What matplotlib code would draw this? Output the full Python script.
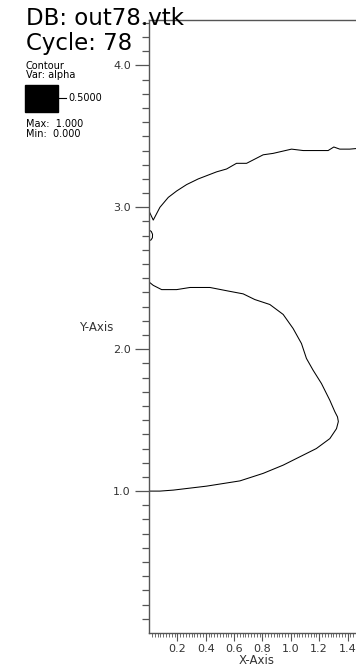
import matplotlib
matplotlib.use("Agg")
import matplotlib.pyplot as plt
import numpy as np

# contour alpha = 0.5, upper interface
upper_x = [0.0, 0.03, 0.077, 0.136, 0.195, 0.265, 0.347, 0.477, 0.547, 0.617,
           0.688, 0.805, 0.875, 1.005, 1.087, 1.263, 1.303, 1.345, 1.415, 1.53]
upper_y = [2.974, 2.91, 3.0, 3.07, 3.115, 3.16, 3.20, 3.25, 3.27, 3.31,
           3.31, 3.37, 3.38, 3.41, 3.40, 3.40, 3.425, 3.41, 3.41, 3.42]

# small detached bubble near the wall
blob_x = [0.0, 0.016, 0.025, 0.024, 0.014, 0.0]
blob_y = [2.84, 2.83, 2.81, 2.785, 2.77, 2.765]

# lower interface (closed back to the wall)
lower_x = [0.0, 0.03, 0.089, 0.195, 0.289, 0.43, 0.558, 0.664, 0.746, 0.852,
           0.946, 1.016, 1.075, 1.11, 1.157, 1.216, 1.275, 1.31, 1.329, 1.335,
           1.322, 1.275, 1.18, 1.04, 0.946, 0.805, 0.641, 0.406, 0.171, 0.077, 0.0]
lower_y = [2.474, 2.45, 2.42, 2.42, 2.435, 2.435, 2.41, 2.39, 2.35, 2.315,
           2.245, 2.146, 2.04, 1.935, 1.852, 1.758, 1.64, 1.56, 1.523, 1.49,
           1.44, 1.37, 1.30, 1.23, 1.183, 1.125, 1.072, 1.035, 1.007, 1.0, 1.0]

y_major = [1.0, 2.0, 3.0, 4.0]
x_major = [0.2, 0.4, 0.6, 0.8, 1.0, 1.2, 1.4]

W, H = 356, 670
fig = plt.figure(figsize=(W / 100, H / 100), dpi=100)
ax = fig.add_axes([149 / W, 37 / H, 217 / W, 613 / H])
ax.set_xlim(0, 1.53)
ax.set_ylim(0, 4.32)

for xs, ys in [(upper_x, upper_y), (blob_x, blob_y), (lower_x, lower_y)]:
    ax.plot(xs, ys, color="black", lw=0.75)

axis_col = "#555555"
txt_col = "#333333"
for s in ["left", "bottom", "top"]:
    ax.spines[s].set_color(axis_col)
    ax.spines[s].set_linewidth(1.0)
ax.spines["right"].set_visible(False)

ax.set_yticks(y_major)
ax.set_yticklabels([f"{v:.1f}" for v in y_major])
ax.set_yticks(np.arange(0.1, 4.31, 0.1), minor=True)
ax.set_xticks(x_major)
ax.set_xticklabels([f"{v:.1f}" for v in x_major])
ax.set_xticks(np.arange(0.02, 1.53, 0.02), minor=True)

ax.tick_params(axis="y", which="major", length=10, width=0.9, color=axis_col,
               labelsize=8, labelcolor=txt_col, pad=3)
ax.tick_params(axis="y", which="minor", length=5, width=0.9, color=axis_col)
ax.tick_params(axis="x", which="major", length=6, width=0.8, color=axis_col,
               labelsize=8, labelcolor=txt_col, pad=2)
ax.tick_params(axis="x", which="minor", length=3, width=0.6, color=axis_col)

fig.text(96 / W, 1 - 328 / H, "Y-Axis", fontsize=8.5, color=txt_col,
         ha="center", va="center")
fig.text(257 / W, 1 - 661 / H, "X-Axis", fontsize=8.5, color=txt_col,
         ha="center", va="center")

# header and legend
fig.text(26 / W, 1 - 25 / H, "DB: out78.vtk", fontsize=16.5, color="black",
         ha="left", va="baseline")
fig.text(26 / W, 1 - 50 / H, "Cycle: 78", fontsize=16.5, color="black",
         ha="left", va="baseline")
fig.text(26 / W, 1 - 69 / H, "Contour", fontsize=7, color="black",
         ha="left", va="baseline")
fig.text(26 / W, 1 - 78 / H, "Var: alpha", fontsize=7, color="black",
         ha="left", va="baseline")
fig.patches.append(plt.Rectangle((25 / W, 1 - 112 / H), 33 / W, 27 / H,
                                 transform=fig.transFigure, color="black"))
fig.add_artist(plt.Line2D([58 / W, 66 / W], [1 - 98 / H, 1 - 98 / H],
                          transform=fig.transFigure, color="black", lw=0.8))
fig.text(68 / W, 1 - 98 / H, "0.5000", fontsize=7, color="black",
         ha="left", va="center")
fig.text(26 / W, 1 - 127 / H, "Max:  1.000", fontsize=7, color="black",
         ha="left", va="baseline")
fig.text(26 / W, 1 - 137 / H, "Min:  0.000", fontsize=7, color="black",
         ha="left", va="baseline")

fig.savefig("out.png", dpi=100)
